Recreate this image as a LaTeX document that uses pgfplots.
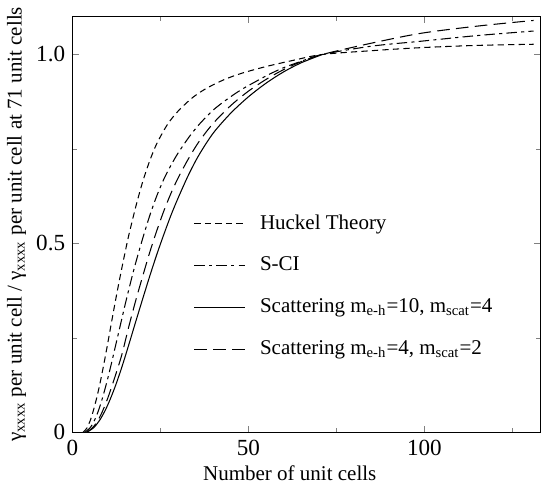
\documentclass[border=0pt]{standalone}
\usepackage{fontspec}
\setmainfont{Liberation Serif}
\usepackage{pgfplots}
\pgfplotsset{compat=1.18}

\begin{document}
\begin{tikzpicture}
\begin{axis}[
    width=223pt, height=198pt,
    scale only axis,
    xmin=0, xmax=133,
    ymin=0, ymax=1.1,
    xtick={0,50,100},
    minor xtick={25,75,125},
    ytick={0,0.5,1},
    yticklabels={0,0.5,1.0},
    minor ytick={0.25,0.75},
    tick align=inside,
    major tick length=3pt,
    minor tick length=2pt,
    tick label style={font=\fontsize{11}{13}\selectfont},
    /pgf/number format/assume math mode=true,
    xlabel={Number of unit cells},
    ylabel={γ\textsubscript{xxxx} per unit cell / γ\textsubscript{xxxx} per unit cell at 71 unit cells},
    xlabel style={yshift=2pt, xshift=-8pt},
    ylabel style={yshift=-2pt},
    legend style={draw=none, fill=none, at={(0.245,0.545)}, anchor=north west,
        row sep=7.8pt, font=\normalsize},
    legend cell align=left,
    legend image code/.code={\draw[#1] (0pt,0pt) -- (24pt,0pt); \path (29pt,0pt);},
    every axis plot/.append style={black, line width=0.5pt, smooth},
]
% Huckel theory
\addplot[dash pattern=on 3pt off 2pt] coordinates {
 (3,0) (4,0.01) (5,0.03) (6,0.06) (7,0.096) (8,0.138) (9,0.185) (10,0.235)
 (11,0.287) (12,0.338) (13,0.387) (14,0.434) (15,0.479) (16,0.522) (18,0.598)
 (20,0.665) (22,0.72) (24,0.765) (27,0.815) (30,0.85) (34,0.885) (38,0.91)
 (43,0.933) (48,0.95) (55,0.968) (63,0.985) (71,1.0) (85,1.01) (99,1.018)
 (115,1.024) (131,1.027)};
\addlegendentry{Huckel Theory}

% S-CI
\addplot[dash pattern=on 5pt off 2pt on 1.5pt off 2pt] coordinates {
 (3.5,0) (5,0.012) (6,0.027) (7,0.048) (8,0.075) (9,0.107) (10,0.142) (11,0.18)
 (12,0.22) (13,0.26) (14,0.3) (15,0.34) (16,0.378) (17,0.415) (18,0.45)
 (20,0.515) (22,0.575) (24,0.627) (26,0.671) (28,0.707) (30,0.739) (33,0.78)
 (36,0.815) (40,0.853) (44,0.882) (48,0.907) (52,0.928) (56,0.948) (60,0.965)
 (65,0.982) (71,1.0) (85,1.022) (99,1.035) (115,1.05) (131,1.062)};
\addlegendentry{S-CI}

% scattering, m_e-h = 10, m_scat = 4
\addplot[solid] coordinates {
 (4,0) (6,0.012) (8,0.036) (10,0.072) (12,0.118) (14,0.172) (16,0.232)
 (18,0.294) (20,0.355) (22,0.415) (24,0.472) (26,0.525) (28,0.575) (30,0.62)
 (33,0.682) (36,0.735) (40,0.792) (45,0.845) (50,0.888) (55,0.924) (60,0.954)
 (65,0.978) (71,1.0)};
\addlegendentry{Scattering m\textsubscript{e-h}=10, m\textsubscript{scat}=4}

% scattering, m_e-h = 4, m_scat = 2
\addplot[dash pattern=on 6pt off 3pt] coordinates {
 (4,0) (6,0.015) (8,0.045) (10,0.09) (12,0.145) (14,0.205) (16,0.28) (18,0.35)
 (20,0.415) (22,0.478) (24,0.535) (26,0.587) (28,0.633) (30,0.673) (33,0.725)
 (36,0.77) (40,0.818) (45,0.865) (50,0.903) (55,0.934) (60,0.96) (65,0.981)
 (71,1.0) (85,1.03) (99,1.056) (115,1.075) (131,1.09)};
\addlegendentry{Scattering m\textsubscript{e-h}=4, m\textsubscript{scat}=2}
\end{axis}
\end{tikzpicture}
\end{document}
